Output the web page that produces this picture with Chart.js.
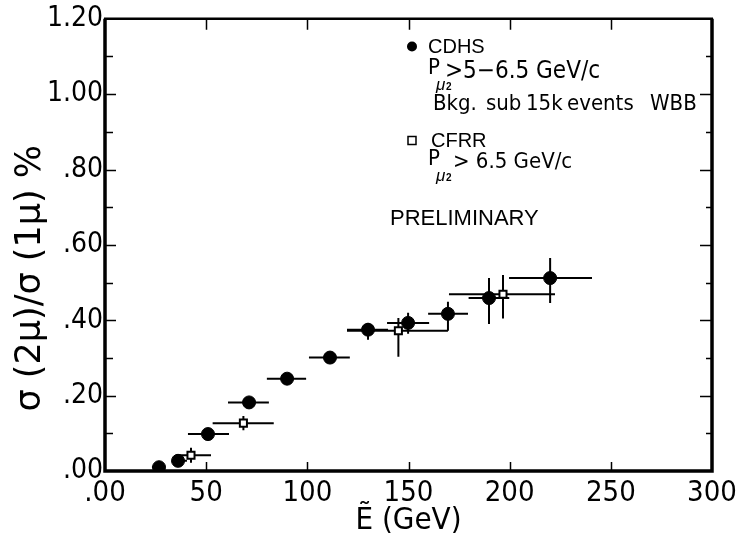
<!DOCTYPE html>
<html lang="en">
<head>
<meta charset="UTF-8">
<title>Dimuon to single muon ratio vs energy</title>
<script src="https://cdn.jsdelivr.net/npm/chart.js"></script>
<style>
    body { margin: 0; background: #fff; }
    #wrap { width: 745px; height: 544px; }
</style>
</head>
<body>
<div id="wrap"><canvas id="ratio-chart"></canvas></div>
<script>
    // CDHS points: energy (GeV), ratio (%), and error bar ends
    const cdhsE    = [26.7, 36.1, 50.9, 71.2, 90.0, 111.2, 130.0, 149.8, 169.5, 189.8, 220.0];
    const cdhsR    = [0.010, 0.027, 0.098, 0.182, 0.245, 0.301, 0.375, 0.393, 0.417, 0.459, 0.512];
    const cdhsELo  = [23.2, 33.0, 41.0, 60.8, 80.0, 100.8, 119.6, 139.4, 159.7, 179.7, 199.7];
    const cdhsEHi  = [29.7, 40.5, 61.3, 81.0, 99.4, 121.0, 139.9, 160.2, 179.4, 199.8, 240.7];
    const cdhsRLo  = [0.000, 0.015, 0.085, 0.168, 0.232, 0.288, 0.348, 0.364, 0.372, 0.390, 0.446];
    const cdhsRHi  = [0.020, 0.040, 0.110, 0.196, 0.258, 0.314, 0.393, 0.420, 0.449, 0.512, 0.565];

    // CFRR points
    const cfrrE    = [42.5, 68.4, 145.0, 196.7];
    const cfrrR    = [0.042, 0.127, 0.372, 0.469];
    const cfrrELo  = [35.0, 53.2, 119.6, 170.0];
    const cfrrEHi  = [52.4, 83.4, 169.5, 222.4];
    const cfrrRLo  = [0.022, 0.108, 0.303, 0.405];
    const cfrrRHi  = [0.062, 0.146, 0.406, 0.520];

    const xTicks = [0, 50, 100, 150, 200, 250, 300];
    const yTicks = [0, 0.2, 0.4, 0.6, 0.8, 1.0, 1.2];

    const narrow = '"DejaVu Sans Condensed", "Liberation Sans Narrow", sans-serif';
    const plain = '"Liberation Sans", Arial, sans-serif';

    function points(xs, ys) {
        return xs.map((x, i) => ({ x: x, y: ys[i] }));
    }

    function fmt(v) {
        // ".80", "1.20" style labels
        const s = v.toFixed(2);
        return s.startsWith('0') ? s.slice(1) : s;
    }

    // horizontal and vertical error bars, drawn under the markers
    const errorBars = {
        id: 'errorBars',
        beforeDatasetsDraw(chart) {
            const { ctx, chartArea, scales: { x, y } } = chart;
            const sets = [
                [cdhsE, cdhsR, cdhsELo, cdhsEHi, cdhsRLo, cdhsRHi],
                [cfrrE, cfrrR, cfrrELo, cfrrEHi, cfrrRLo, cfrrRHi]
            ];
            ctx.save();
            ctx.beginPath();
            ctx.rect(chartArea.left, chartArea.top, chartArea.right - chartArea.left, chartArea.bottom - chartArea.top);
            ctx.clip();
            ctx.strokeStyle = '#000';
            ctx.lineWidth = 2;
            sets.forEach(([e, r, eLo, eHi, rLo, rHi]) => {
                e.forEach((_, i) => {
                    const py = y.getPixelForValue(r[i]);
                    const px = x.getPixelForValue(e[i]);
                    ctx.beginPath();
                    ctx.moveTo(x.getPixelForValue(eLo[i]), py);
                    ctx.lineTo(x.getPixelForValue(eHi[i]), py);
                    ctx.moveTo(px, y.getPixelForValue(rLo[i]));
                    ctx.lineTo(px, y.getPixelForValue(rHi[i]));
                    ctx.stroke();
                });
            });
            ctx.restore();
        }
    };

    // box frame with inward tick marks
    const frame = {
        id: 'frame',
        afterDatasetsDraw(chart) {
            const { ctx, chartArea: a, scales: { x, y } } = chart;
            ctx.save();
            ctx.strokeStyle = '#000';
            ctx.lineWidth = 1.5;
            for (let v = 0.1; v < 1.19; v += 0.1) {
                const py = Math.round(y.getPixelForValue(v)) + 0.5;
                const major = Math.round(v * 10) % 2 === 0;
                ctx.beginPath();
                ctx.moveTo(a.left, py);
                ctx.lineTo(a.left + (major ? 11 : 8), py);
                ctx.moveTo(a.right, py);
                ctx.lineTo(a.right - (major ? 12 : 6), py);
                ctx.stroke();
            }
            xTicks.slice(1, -1).forEach(v => {
                const px = Math.round(x.getPixelForValue(v)) + 0.5;
                ctx.beginPath();
                ctx.moveTo(px, a.top);
                ctx.lineTo(px, a.top + 11);
                ctx.moveTo(px, a.bottom);
                ctx.lineTo(px, a.bottom - 9);
                ctx.stroke();
            });
            ctx.lineWidth = 3.5;
            ctx.beginPath();
            ctx.moveTo(a.left, a.top);
            ctx.lineTo(a.left, a.bottom);
            ctx.lineTo(a.right, a.bottom);
            ctx.lineTo(a.right, a.top);
            ctx.stroke();
            ctx.lineWidth = 2.5;
            ctx.beginPath();
            ctx.moveTo(a.left - 1, a.top);
            ctx.lineTo(a.right + 1, a.top);
            ctx.stroke();
            ctx.restore();
        }
    };

    // muon subscript under a "P"
    function muSub(ctx, x, y) {
        ctx.font = 'italic 17px ' + plain;
        ctx.fillText('\u03bc', x, y);
        ctx.font = 'bold 10px ' + plain;
        ctx.fillText('2', x + 10, y);
    }

    // key and notes inside the plot
    const notes = {
        id: 'notes',
        afterDraw(chart) {
            const ctx = chart.ctx;
            ctx.save();
            ctx.fillStyle = '#000';
            ctx.strokeStyle = '#000';
            ctx.textBaseline = 'alphabetic';

            ctx.beginPath();
            ctx.arc(412, 46.5, 5, 0, Math.PI * 2);
            ctx.fill();
            ctx.font = '20px ' + plain;
            ctx.fillText('CDHS', 428, 53);

            ctx.font = '22px ' + narrow;
            ctx.fillText('P', 428, 74);
            ctx.font = '24px ' + narrow;
            ctx.fillText('>5\u22126.5 GeV/c', 445, 78);
            muSub(ctx, 436, 90);

            ctx.font = '22px ' + narrow;
            ctx.fillText('Bkg.', 433, 110);
            ctx.fillText('sub', 486, 110);
            ctx.fillText('15k', 526, 110);
            ctx.fillText('events', 567, 110);
            ctx.fillText('WBB', 650, 110);

            ctx.lineWidth = 1.5;
            ctx.strokeRect(408, 136.5, 8, 8);
            ctx.font = '20px ' + plain;
            ctx.fillText('CFRR', 431, 147);

            ctx.font = '22px ' + narrow;
            ctx.fillText('P', 428, 165);
            ctx.fillText('> 6.5 GeV/c', 453, 168);
            muSub(ctx, 436, 181);

            ctx.font = '22px ' + plain;
            ctx.fillText('PRELIMINARY', 390, 225);
            ctx.restore();
        }
    };

    const ctx = document.getElementById('ratio-chart').getContext('2d');
    const ratioChart = new Chart(ctx, {
        type: 'scatter',
        data: {
            datasets: [{
                label: 'CDHS',
                data: points(cdhsE, cdhsR),
                pointStyle: 'circle',
                pointRadius: 6.5,
                backgroundColor: '#000',
                borderColor: '#000',
                borderWidth: 1,
                clip: { left: false, top: false, right: false, bottom: 0 }
            }, {
                label: 'CFRR',
                data: points(cfrrE, cfrrR),
                pointStyle: 'rect',
                pointRadius: 5,
                backgroundColor: '#fff',
                borderColor: '#000',
                borderWidth: 2
            }]
        },
        options: {
            responsive: true,
            maintainAspectRatio: false,
            animation: false,
            layout: { padding: { top: 16, right: 33, left: 0, bottom: 0 } },
            plugins: {
                legend: { display: false },
                tooltip: { enabled: false }
            },
            scales: {
                x: {
                    type: 'linear',
                    min: 0,
                    max: 300,
                    afterBuildTicks: s => { s.ticks = xTicks.map(v => ({ value: v })); },
                    afterFit: s => { s.height = 73; },
                    grid: { display: false, drawTicks: false },
                    border: { display: false },
                    ticks: {
                        padding: 5,
                        color: '#000',
                        font: { family: narrow, size: 29 },
                        maxRotation: 0,
                        callback: v => v === 0 ? '.00' : String(v)
                    },
                    title: {
                        display: true,
                        text: '\u1ebc (GeV)',
                        color: '#000',
                        font: { family: narrow, size: 31 },
                        padding: { top: 0, bottom: 4 }
                    }
                },
                y: {
                    type: 'linear',
                    min: 0,
                    max: 1.2,
                    afterBuildTicks: s => { s.ticks = yTicks.map(v => ({ value: v })); },
                    afterFit: s => { s.width = 105; },
                    grid: { display: false, drawTicks: false },
                    border: { display: false },
                    ticks: {
                        padding: 2,
                        color: '#000',
                        font: { family: narrow, size: 28 },
                        callback: v => fmt(v)
                    },
                    title: {
                        display: true,
                        // trailing spaces push the rotated title down the axis
                        text: '\u03c3 (2\u03bc)/\u03c3 (1\u03bc) %      ',
                        color: '#000',
                        font: { family: '"DejaVu Sans", sans-serif', size: 35 },
                        padding: { top: 10, bottom: 0 }
                    }
                }
            }
        },
        plugins: [errorBars, frame, notes]
    });
</script>
</body>
</html>
